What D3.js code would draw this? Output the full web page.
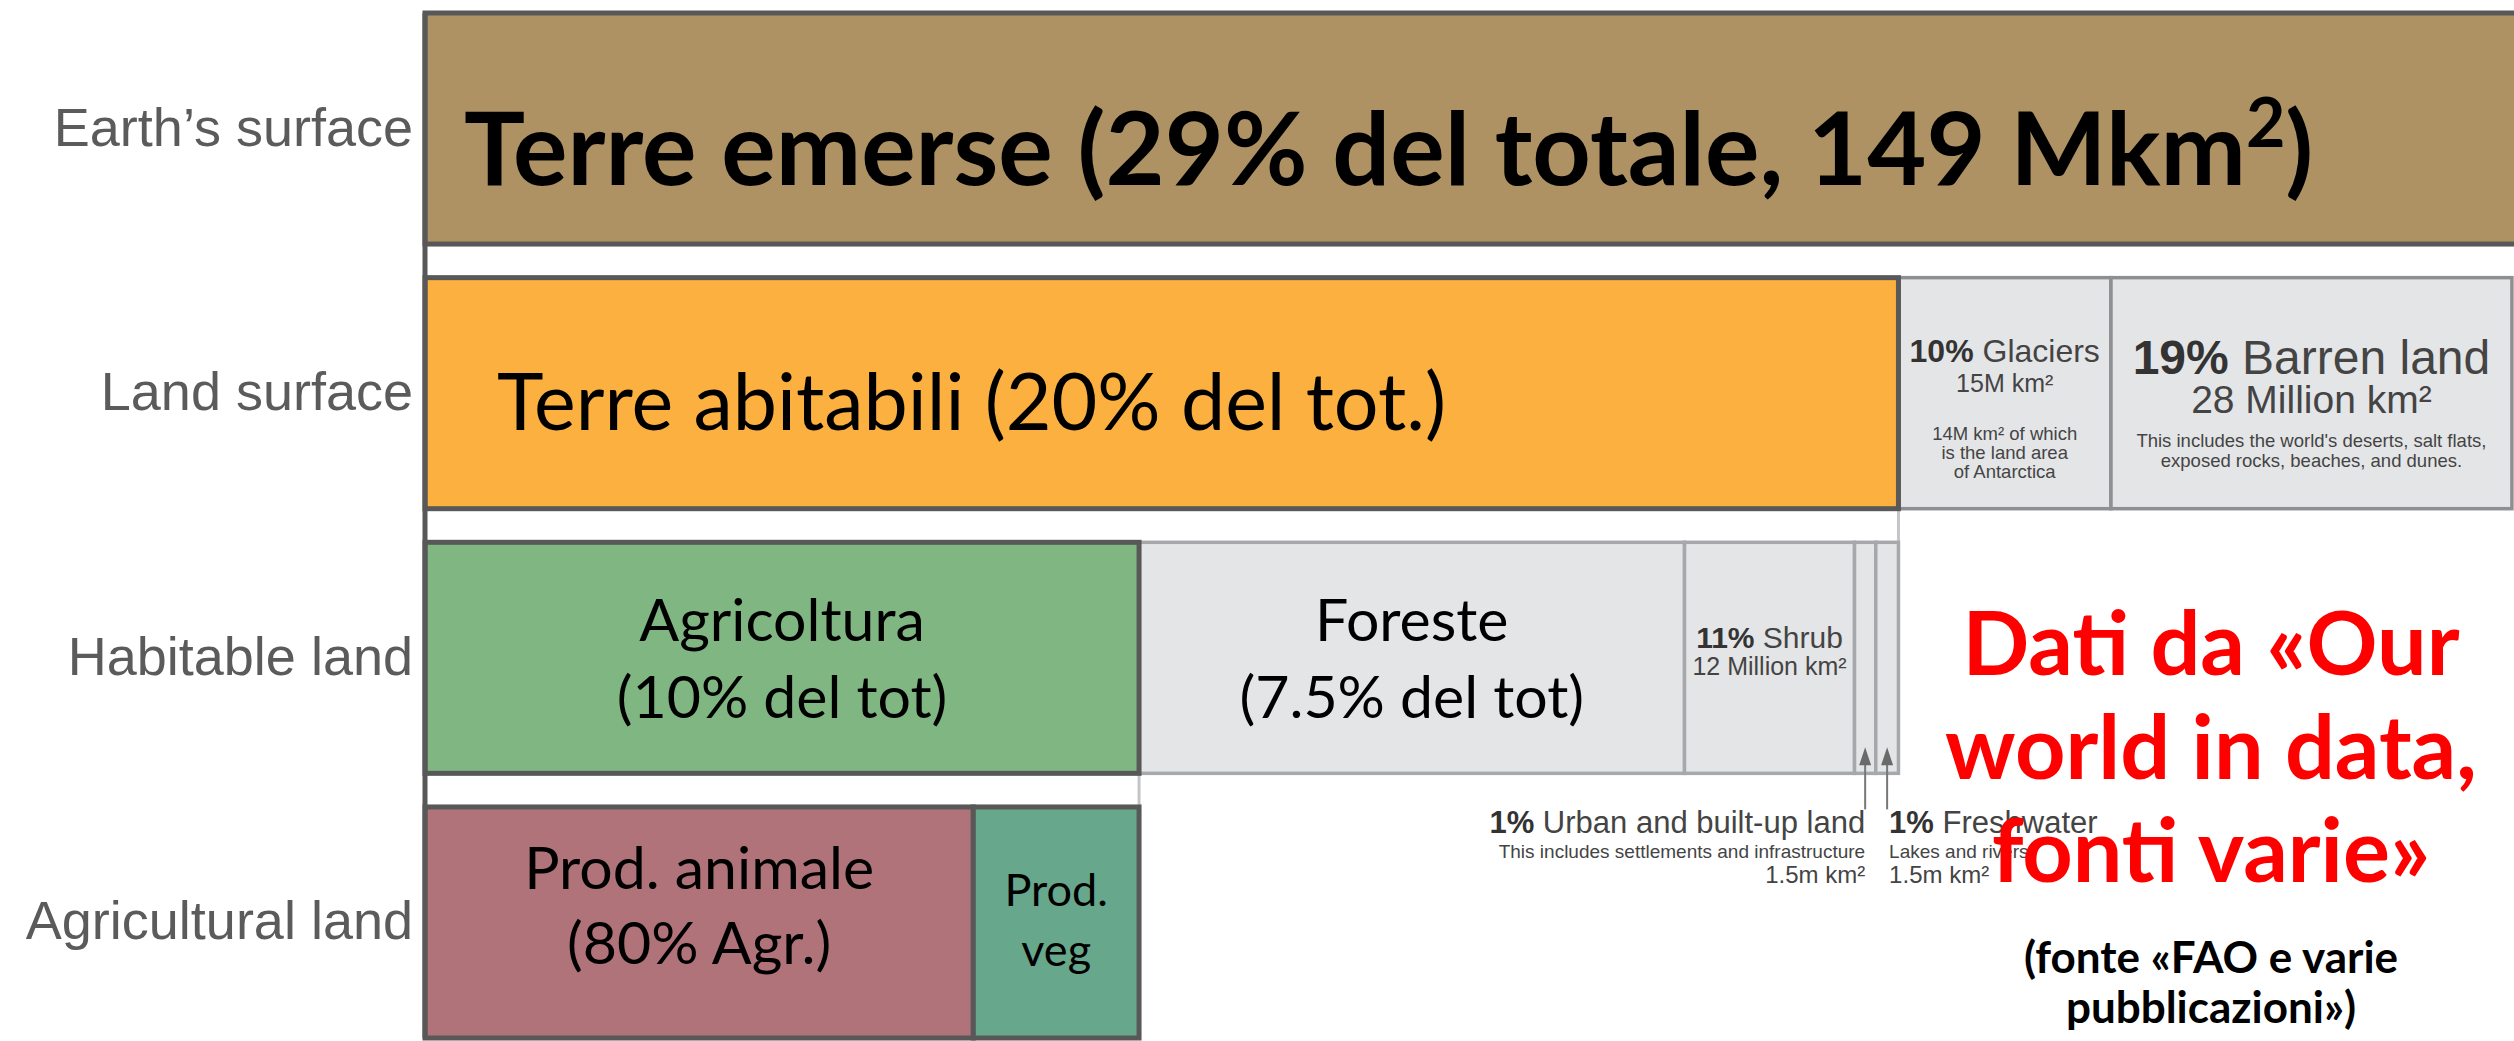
<!DOCTYPE html>
<html>
<head>
<meta charset="utf-8">
<script src="https://cdn.jsdelivr.net/npm/d3@7"></script>
<style>
  body { margin: 0; background: #fff; }
  svg { display: block; }
</style>
</head>
<body>
<div id="chart"></div>
<script>
// Righe del grafico, dall'alto verso il basso
const rows = ["Earth’s surface", "Land surface", "Habitable land", "Agricultural land"];

// Superfici in milioni di km²
const earthNames = ["Terre emerse"];
const earthValues = [149];
const landNames = ["Terre abitabili", "Glaciers", "Barren land"];
const landValues = [104, 15, 28.3];
const habitableNames = ["Agricoltura", "Foreste", "Shrub", "Urban", "Freshwater"];
const habitableValues = [50.4, 38.5, 12, 1.5, 1.6];
const agriNames = ["Prod. animale", "Prod. veg"];
const agriValues = [38.7, 11.7];

// Testi dentro i rettangoli
const agriLines = ["Agricoltura", "(10% del tot)"];
const forestLines = ["Foreste", "(7.5% del tot)"];
const animalLines = ["Prod. animale", "(80% Agr.)"];
const vegLines = ["Prod.", "veg"];
const sourceLines = ["Dati da «Our", "world in data,", "fonti varie»"];
const faoLines = ["(fonte «FAO e varie", "pubblicazioni»)"];

const W = 2514, H = 1041;

const fills = {
    "Terre emerse": "#ae9263",
    "Terre abitabili": "#fbb040",
    "Agricoltura": "#7fb681",
    "Prod. animale": "#b07379",
    "Prod. veg": "#67a78b"
};
const grayFill = "#e4e5e7";

const svg = d3.select("#chart").append("svg")
    .attr("width", W)
    .attr("height", H);

const x = d3.scaleLinear().domain([0, 149]).range([425, 2536]);
const y = d3.scaleBand().domain(rows).range([13, 1038]).paddingInner(0.127);
const bh = y.bandwidth();

// segmenti cumulati per ogni riga
function segments(row, names, values) {
    const ends = d3.cumsum(values);
    return names.map((n, i) => ({ row: row, name: n, x0: ends[i] - values[i], x1: ends[i] }));
}
const segs = [].concat(
    segments(rows[0], earthNames, earthValues),
    segments(rows[1], landNames, landValues),
    segments(rows[2], habitableNames, habitableValues),
    segments(rows[3], agriNames, agriValues)
);
const seg = name => segs.find(d => d.name === name);

// trattini di collegamento tra le righe (bordo destro del genitore)
const links = [
    { parent: "Terre abitabili", row: rows[2] },
    { parent: "Agricoltura", row: rows[3] }
];
svg.selectAll("line.link")
    .data(links)
    .enter()
    .append("line")
    .attr("class", "link")
    .attr("x1", d => x(seg(d.parent).x1))
    .attr("x2", d => x(seg(d.parent).x1))
    .attr("y1", d => y(seg(d.parent).row) + bh)
    .attr("y2", d => y(d.row))
    .attr("stroke", "#c4c5c8")
    .attr("stroke-width", 3);

// prima i rettangoli grigi, poi quelli colorati (bordo scuro sopra)
const ordered = segs.filter(d => !fills[d.name]).concat(segs.filter(d => fills[d.name]));
svg.selectAll("rect.seg")
    .data(ordered)
    .enter()
    .append("rect")
    .attr("class", "seg")
    .attr("x", d => x(d.x0))
    .attr("y", d => y(d.row))
    .attr("width", d => x(d.x1) - x(d.x0))
    .attr("height", bh)
    .attr("fill", d => fills[d.name] || grayFill)
    .attr("stroke", d => fills[d.name] ? "#585858" : (d.row === rows[1] ? "#8e8f92" : "#a7a8ab"))
    .attr("stroke-width", d => fills[d.name] ? 5 : 3.5);

// bordo sinistro continuo
svg.append("line")
    .attr("x1", x(0)).attr("x2", x(0))
    .attr("y1", y(rows[0])).attr("y2", y(rows[3]) + bh)
    .attr("stroke", "#585858")
    .attr("stroke-width", 5);

// etichette delle righe
svg.selectAll("text.rowlabel")
    .data(rows)
    .enter()
    .append("text")
    .attr("class", "rowlabel")
    .attr("x", x(0) - 12)
    .attr("y", d => y(d) + bh / 2 + 17)
    .attr("text-anchor", "end")
    .attr("font-family", "Liberation Sans, Arial, sans-serif")
    .attr("font-size", 54)
    .attr("fill", "#5b5b5b")
    .text(d => d);

// titolo della prima riga
const title = svg.append("text")
    .attr("x", x(0) + 39)
    .attr("y", y(rows[0]) + 172)
    .attr("font-family", "Lato, sans-serif")
    .attr("font-weight", 700)
    .attr("font-size", 102)
    .attr("fill", "#000");
title.append("tspan").text("Terre emerse (29% del totale, 149 Mkm");
title.append("tspan").attr("font-size", 68).attr("dy", -38).text("2");
title.append("tspan").attr("dy", 38).text(")");

svg.append("text")
    .attr("x", x(0) + 72)
    .attr("y", y(rows[1]) + 152)
    .attr("font-family", "Lato, sans-serif")
    .attr("font-size", 79)
    .attr("fill", "#000")
    .text("Terre abitabili (20% del tot.)");

// testi centrati nei rettangoli colorati
function centered(name, lines, offsets, size) {
    const s = seg(name);
    svg.selectAll(null)
        .data(lines)
        .enter()
        .append("text")
        .attr("x", x((s.x0 + s.x1) / 2))
        .attr("y", (d, i) => y(s.row) + offsets[i])
        .attr("text-anchor", "middle")
        .attr("font-family", "Lato, sans-serif")
        .attr("font-size", size)
        .attr("fill", "#000")
        .text(d => d);
}
centered("Agricoltura", agriLines, [99, 176], 59);
centered("Foreste", forestLines, [99, 176], 59);
centered("Prod. animale", animalLines, [82, 157], 59);
centered("Prod. veg", vegLines, [99, 159], 45);

// testi in stile OWID: [grassetto, normale, dimensione, linea di base]
function owid(cx, top, lines, anchor) {
    lines.forEach(l => {
        const t = svg.append("text")
            .attr("x", cx)
            .attr("y", top + l[3])
            .attr("text-anchor", anchor || "middle")
            .attr("font-family", "Liberation Sans, Arial, sans-serif")
            .attr("font-size", l[2])
            .attr("fill", "#444");
        if (l[0]) t.append("tspan").attr("font-weight", 700).attr("fill", "#333").text(l[0]);
        t.append("tspan").text(l[1]);
    });
}
const gl = seg("Glaciers"), ba = seg("Barren land"), sh = seg("Shrub");
const ur = seg("Urban"), fw = seg("Freshwater");
owid(x((gl.x0 + gl.x1) / 2), y(rows[1]), [
    ["10%", " Glaciers", 32, 84],
    ["", "15M km²", 25, 114],
    ["", "14M km² of which", 18.5, 162],
    ["", "is the land area", 18.5, 181],
    ["", "of Antarctica", 18.5, 200]
]);
owid(x((ba.x0 + ba.x1) / 2), y(rows[1]), [
    ["19%", " Barren land", 48, 96],
    ["", "28 Million km²", 39, 135],
    ["", "This includes the world's deserts, salt flats,", 18.5, 169],
    ["", "exposed rocks, beaches, and dunes.", 18.5, 189]
]);
owid(x((sh.x0 + sh.x1) / 2), y(rows[2]), [
    ["11%", " Shrub", 30, 106],
    ["", "12 Million km²", 25, 133]
]);
const below = y(rows[2]) + bh;
owid(x((ur.x0 + ur.x1) / 2), below, [
    ["1%", " Urban and built-up land", 31, 60],
    ["", "This includes settlements and infrastructure", 19, 85],
    ["", "1.5m km²", 24, 110]
], "end");
owid(x((fw.x0 + fw.x1) / 2) + 2, below, [
    ["1%", " Freshwater", 31, 60],
    ["", "Lakes and rivers", 19, 85],
    ["", "1.5m km²", 24, 110]
], "start");

// frecce verso i rettangoli piccoli
[ur, fw].forEach(s => {
    const ax = x((s.x0 + s.x1) / 2);
    svg.append("line")
        .attr("x1", ax).attr("x2", ax)
        .attr("y1", below + 36).attr("y2", below - 12)
        .attr("stroke", "#777").attr("stroke-width", 2);
    svg.append("path")
        .attr("d", `M${ax},${below - 26} L${ax - 6},${below - 8} L${ax + 6},${below - 8} Z`)
        .attr("fill", "#6a6a6a");
});

// nota in rosso sopra a tutto
svg.selectAll("text.src")
    .data(sourceLines)
    .enter()
    .append("text")
    .attr("class", "src")
    .attr("x", 2211)
    .attr("y", (d, i) => 675 + i * 103.5)
    .attr("text-anchor", "middle")
    .attr("font-family", "Lato, sans-serif")
    .attr("font-weight", 700)
    .attr("font-size", 88)
    .attr("fill", "#ff0000")
    .text(d => d);

svg.selectAll("text.fao")
    .data(faoLines)
    .enter()
    .append("text")
    .attr("class", "fao")
    .attr("x", 2211)
    .attr("y", (d, i) => 973 + i * 50)
    .attr("text-anchor", "middle")
    .attr("font-family", "Lato, sans-serif")
    .attr("font-weight", 700)
    .attr("font-size", 44)
    .attr("fill", "#000")
    .text(d => d);
</script>
</body>
</html>
